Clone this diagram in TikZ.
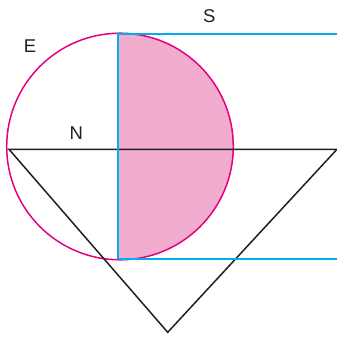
\documentclass[tikz,border=0pt]{standalone}
\usepackage{fontspec}
\setmainfont{Liberation Sans}
\definecolor{magc}{RGB}{230,0,126}
\definecolor{pinkc}{RGB}{242,172,205}
\definecolor{bluec}{RGB}{0,174,239}
\definecolor{blackc}{RGB}{35,31,32}
\begin{document}
\begin{tikzpicture}[x=1pt,y=-1pt,
  magline/.style={draw=magc,line width=1.5pt},
  blueline/.style={draw=bluec,line width=1.5pt},
  blackline/.style={draw=blackc,line width=1.5pt},
  lbl/.style={font=\fontsize{18.5}{20}\selectfont,text=blackc,inner sep=0pt}]
\useasboundingbox (0,0) rectangle (337,337);
\coordinate (O) at (120,146.5);
\coordinate (T) at (118,34);
\coordinate (B) at (118,259);
\coordinate (TR) at (337,34);
\coordinate (BR) at (337,259);
\coordinate (L) at (9,149.3);
\coordinate (R) at (337,149.3);
\coordinate (V) at (167.7,332.3);
% pink half disc
\begin{scope}
  \clip (118,0) rectangle (337,337);
  \fill[pinkc] (O) circle[radius=113.3];
\end{scope}
\draw[magline] (O) circle[radius=113.3];
\draw[blackline,line join=miter] (L) -- (R) -- (V) -- cycle;
\fill[bluec] (117.25,33.25) rectangle (337,34.75);
\draw[blueline] (T) -- (B);
\draw[blueline] (B) -- (BR);
\node[lbl] (E) at (30,45.7) {E};
\node[lbl] (N) at (76.3,133.3) {N};
\node[lbl] (S) at (209.3,15.7) {S};
\end{tikzpicture}
\end{document}
